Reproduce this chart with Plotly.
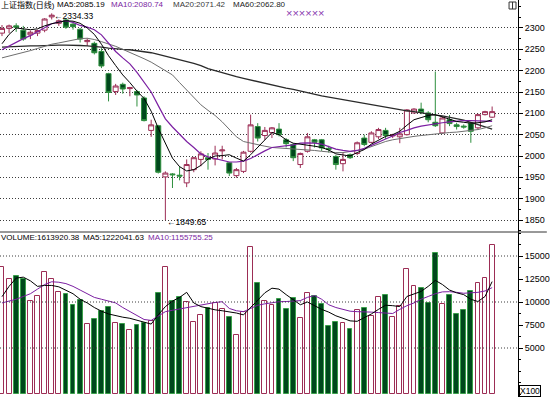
import plotly.graph_objects as go

# ---------------- data ----------------
day_index = list(range(70))

price_open = [2288, 2299, 2305, 2295, 2284, 2288, 2295, 2326, 2311, 2319,
              2309, 2297, 2268, 2264, 2245, 2193, 2151, 2168, 2158, 2151,
              2136, 2060, 2071, 1951, 1958, 1955, 1937, 1968, 1992, 1996,
              1993, 2012, 1984, 1954, 1964, 2011, 2069, 2048, 2055, 2063,
              2038, 2027, 1980, 2011, 2038, 2038, 2018, 1999, 1982, 2003,
              2006, 2042, 2032, 2045, 2060, 2047, 2045, 2050, 2101, 2110,
              2101, 2079, 2054, 2085, 2073, 2070, 2077, 2066, 2097, 2091]
price_high = [2307, 2308, 2311, 2305, 2294, 2296, 2323, 2334.33, 2320, 2323,
              2312, 2300, 2276, 2268, 2253, 2195, 2169, 2172, 2162, 2155,
              2140, 2085, 2073, 1964, 1960, 1976, 1992, 1998, 2011, 2007,
              2024, 2024, 1986, 1972, 2012, 2097, 2077, 2068, 2068, 2077,
              2042, 2030, 2008, 2054, 2040, 2040, 2024, 2002, 2007, 2006,
              2034, 2050, 2058, 2066, 2066, 2052, 2066, 2110, 2112, 2125,
              2105, 2198, 2092, 2096, 2078, 2074, 2079, 2099, 2106, 2116]
price_low = [2281, 2288, 2291, 2270, 2274, 2281, 2290, 2320, 2305, 2298,
             2296, 2266, 2258, 2238, 2206, 2128, 2143, 2146, 2140, 2116,
             2081, 2045, 1959, 1849.65, 1925, 1943, 1927, 1962, 1976, 1968,
             1978, 1992, 1953, 1949, 1960, 2008, 2034, 2038, 2042, 2046,
             2020, 1988, 1972, 2008, 2020, 2012, 2008, 1968, 1964, 1993,
             2002, 2023, 2030, 2040, 2040, 2042, 2030, 2048, 2099, 2098,
             2079, 2068, 2052, 2070, 2062, 2064, 2031, 2062, 2095, 2089]
price_close = [2299, 2305, 2302, 2274, 2290, 2294, 2321, 2330, 2317, 2302,
               2303, 2274, 2271, 2242, 2211, 2149, 2164, 2157, 2160, 2143,
               2083, 2073, 1962, 1960, 1956, 1953, 1980, 1996, 2005, 1992,
               2007, 2014, 1960, 1968, 2009, 2073, 2042, 2060, 2066, 2050,
               2029, 1996, 2006, 2045, 2032, 2019, 2016, 1980, 1992, 1996,
               2031, 2027, 2054, 2062, 2048, 2049, 2052, 2108, 2110, 2102,
               2085, 2071, 2089, 2076, 2069, 2068, 2058, 2097, 2104, 2104]

ma5 = [2263, 2285, 2300, 2298, 2296, 2298, 2305, 2310, 2314, 2317,
       2316, 2311, 2300, 2285, 2262, 2235, 2212, 2190, 2172, 2152,
       2135, 2105, 2065, 2030, 1995, 1975, 1965, 1968, 1978, 1993,
       2000, 2001, 2003, 1995, 1988, 2003, 2020, 2038, 2055, 2050,
       2038, 2030, 2028, 2025, 2023, 2020, 2014, 2005, 2002, 2000,
       2008, 2015, 2028, 2038, 2046, 2050, 2058, 2072, 2085, 2090,
       2095, 2097, 2092, 2086, 2081, 2079, 2077, 2078, 2080, 2085]
ma10 = [2249, 2258, 2267, 2275, 2282, 2292, 2302, 2310, 2314, 2317,
        2313, 2306, 2302, 2296, 2284, 2265, 2245, 2230, 2216, 2196,
        2172, 2150, 2118, 2087, 2068, 2050, 2034, 2020, 2005, 1998,
        1994, 1990, 1986, 1986, 1988, 1994, 2004, 2012, 2020, 2022,
        2024, 2026, 2030, 2031, 2030, 2028, 2022, 2016, 2013, 2011,
        2013, 2018, 2025, 2033, 2040, 2047, 2055, 2060, 2066, 2070,
        2073, 2075, 2078, 2080, 2082, 2083, 2083, 2082, 2081, 2081]
ma20 = [2230, 2234, 2238, 2242, 2247, 2252, 2257, 2262, 2265, 2268,
        2272, 2275, 2276, 2273, 2268, 2263, 2257, 2250, 2243, 2235,
        2228, 2220, 2210, 2200, 2190, 2172, 2155, 2137, 2120, 2107,
        2095, 2080, 2062, 2045, 2034, 2030, 2026, 2023, 2020, 2019,
        2018, 2017, 2016, 2015, 2013, 2011, 2009, 2008, 2008, 2010,
        2013, 2016, 2022, 2029, 2034, 2038, 2041, 2044, 2046, 2048,
        2050, 2052, 2054, 2055, 2056, 2058, 2059, 2062, 2066, 2071]
ma60 = [2255, 2256, 2257, 2257, 2258, 2258, 2259, 2259, 2260, 2260,
        2260, 2259, 2258, 2257, 2255, 2253, 2251, 2250, 2249, 2247,
        2245, 2242, 2238, 2234, 2229, 2225, 2221, 2217, 2212, 2205,
        2200, 2195, 2190, 2186, 2182, 2178, 2174, 2170, 2167, 2163,
        2159, 2156, 2152, 2148, 2145, 2141, 2138, 2135, 2132, 2129,
        2126, 2123, 2120, 2117, 2115, 2112, 2108, 2106, 2104, 2101,
        2099, 2096, 2094, 2091, 2088, 2084, 2079, 2074, 2068, 2063]

volume = [13840, 12460, 12830, 12460, 10110, 10690, 13230, 12460, 11120, 10830,
          9670, 10220, 7570, 8120, 9020, 9490, 7750, 7570, 6960, 7500,
          7750, 7970, 10940, 13840, 10110, 10510, 10030, 7860, 8590, 9310,
          9920, 9200, 8400, 6410, 8950, 16010, 12100, 10110, 9670, 10330,
          9200, 10400, 8300, 10940, 10650, 9780, 7390, 7860, 7680, 7030,
          9130, 9380, 8510, 10580, 10800, 8400, 9570, 13550, 11740, 11490,
          9920, 15290, 9750, 10760, 8660, 9130, 11230, 12030, 12640, 16160]
vol_ma5 = [10580, 11700, 12600, 12700, 12300, 11700, 11800, 11800, 11650, 11300,
           10900, 10300, 9900, 9400, 9000, 8700, 8500, 8350, 8230, 8000,
           7750, 7600, 8600, 9500, 10100, 10500, 11050, 9900, 9500, 9300,
           9150, 9050, 8950, 8800, 8600, 9400, 10300, 11000, 11500, 11400,
           10800, 10200, 9700, 10000, 9600, 9200, 8900, 8500, 8230, 7950,
           7900, 8300, 8700, 9200, 9650, 9600, 9500, 10600, 10900, 11150,
           11700, 12350, 11900, 11300, 11000, 10800, 10300, 10050, 10600, 12220]
vol_ma10 = [9900, 10100, 10300, 10600, 10900, 11400, 11900, 12200, 12150, 12000,
            11700, 11300, 10900, 10500, 10300, 10100, 9900, 9400, 8950, 8500,
            8100, 8000, 8500, 8950, 9100, 9250, 9350, 9500, 9650, 9800,
            9950, 10030, 9300, 9050, 8950, 9300, 9650, 9800, 9950, 10030,
            10050, 10080, 10150, 10500, 10700, 10300, 9700, 9400, 9200, 9000,
            8950, 8950, 8900, 8850, 8800, 8750, 9200, 9600, 9900, 10300,
            10600, 10900, 11100, 11120, 11050, 10950, 11000, 11050, 11200, 11560]

price_ticks = [1850, 1900, 1950, 2000, 2050, 2100, 2150, 2200, 2250, 2300]
vol_ticks = [5000, 7500, 10000, 12500, 15000]
vol_tick_labels = ["5000", "7500", "10000", "12500", "15000"]
vol_grid_levels = [5000, 10000, 15000]

price_header = ["上证指数(日线)", "MA5:2085.19", "MA10:2080.74", "MA20:2071.42", "MA60:2062.80"]
volume_header = ["VOLUME:1613920.38", "MA5:1222041.63", "MA10:1155755.25"]
high_label = "←2334.33"
low_label = "←1849.65"
high_day, low_day = 7, 23

# ---------------- style ----------------
W, H = 550, 397
PLOT_R = 521          # px of the right axis
SPLIT_PX = 232        # px of the panel separator
FONT = "Arial, Liberation Sans, Noto Sans CJK SC, sans-serif"
UP_LINE = "#9c2d55"
DN_LINE = "#2e8f3e"
DN_FILL = "#00481c"
C_MA5 = "#000000"
C_MA10 = "#7b1fa2"
C_MA20 = "#6e6e6e"
C_MA60 = "#2a2a2a"
GRID = "#3c3c3c"

split = 1 - SPLIT_PX / H


def px_x(px):
    return px / PLOT_R


def px_y(py):
    return 1 - py / H


fig = go.Figure()

fig.add_trace(go.Candlestick(
    x=day_index, open=price_open, high=price_high, low=price_low, close=price_close,
    increasing=dict(line=dict(color=UP_LINE, width=1), fillcolor="white"),
    decreasing=dict(line=dict(color=DN_LINE, width=1), fillcolor=DN_FILL),
    whiskerwidth=0, hoverinfo="skip", showlegend=False, yaxis="y"))

for series, color, width in [(ma60, C_MA60, 1.3), (ma20, C_MA20, 1), (ma10, C_MA10, 1.2), (ma5, C_MA5, 1)]:
    fig.add_trace(go.Scatter(x=day_index, y=series, mode="lines",
                             line=dict(color=color, width=width),
                             hoverinfo="skip", showlegend=False, yaxis="y"))

up = [c >= o for o, c in zip(price_open, price_close)]
fig.add_trace(go.Bar(
    x=day_index, y=volume, width=0.68,
    marker=dict(color=["white" if u else DN_FILL for u in up],
                line=dict(color=[UP_LINE if u else "#3aa04a" for u in up], width=1)),
    hoverinfo="skip", showlegend=False, yaxis="y2"))

for series, color in [(vol_ma10, C_MA10), (vol_ma5, C_MA5)]:
    fig.add_trace(go.Scatter(x=day_index, y=series, mode="lines",
                             line=dict(color=color, width=1),
                             hoverinfo="skip", showlegend=False, yaxis="y2"))

axis_common = dict(side="right", ticks="outside", ticklen=4, tickcolor="black",
                   showline=True, linecolor="black", linewidth=1, zeroline=False,
                   tickfont=dict(size=9, color="black", family=FONT), fixedrange=True)

fig.update_layout(
    width=W, height=H, margin=dict(l=0, r=W - PLOT_R, t=0, b=0),
    paper_bgcolor="white", plot_bgcolor="white", showlegend=False,
    boxgap=0.3, boxgroupgap=0, bargap=0,
    font=dict(family=FONT, size=9, color="black"),
    xaxis=dict(range=[-0.28, 72.64], visible=False, fixedrange=True,
               rangeslider=dict(visible=False)),
    yaxis=dict(domain=[split, 1], range=[1821.9, 2365.6], tickvals=price_ticks,
               showgrid=True, gridcolor=GRID, griddash="1px,2px", gridwidth=1,
               minor=dict(tickmode="linear", tick0=1800, dtick=25, ticks="outside",
                          ticklen=2, tickcolor="black", showgrid=False),
               **axis_common),
    yaxis2=dict(domain=[0, split], range=[-326, 17609], tickvals=vol_ticks,
                ticktext=vol_tick_labels, showgrid=False,
                minor=dict(tickmode="linear", tick0=0, dtick=1250, ticks="outside",
                           ticklen=2, tickcolor="black", showgrid=False),
                **axis_common),
)

shapes = []
for lvl in vol_grid_levels:
    shapes.append(dict(type="line", xref="x domain", yref="y2", x0=0, x1=1, y0=lvl, y1=lvl,
                       line=dict(color=GRID, width=1, dash="1px,2px")))
# panel separator
shapes.append(dict(type="line", xref="paper", yref="paper", x0=0, x1=W / PLOT_R,
                   y0=split, y1=split, line=dict(color="#333333", width=1)))
# small window icon at the top right
shapes.append(dict(type="rect", xref="paper", yref="paper", x0=px_x(512), x1=px_x(519),
                   y0=px_y(9), y1=px_y(2), line=dict(color="#333333", width=1)))
shapes.append(dict(type="line", xref="paper", yref="paper", x0=px_x(515.5), x1=px_x(515.5),
                   y0=px_y(9), y1=px_y(2), line=dict(color="#333333", width=1)))
fig.update_layout(shapes=shapes)

ann = []
row1_x = [0, 56, 111, 173, 233]
row1_c = ["black", C_MA5, C_MA10, "#3a3a3a", "#1a1a1a"]
row1_s = [8, 8, 8, 8, 8]
for t, x, c, s in zip(price_header, row1_x, row1_c, row1_s):
    ann.append(dict(text=t, x=px_x(x - 1), y=px_y(5), xref="paper", yref="paper",
                    xanchor="left", yanchor="middle", showarrow=False,
                    font=dict(size=s, color=c, family=FONT)))
row2_x = [0, 82, 148]
row2_c = ["black", "black", C_MA10]
for t, x, c in zip(volume_header, row2_x, row2_c):
    ann.append(dict(text=t, x=px_x(x - 1), y=px_y(237), xref="paper", yref="paper",
                    xanchor="left", yanchor="middle", showarrow=False,
                    font=dict(size=8, color=c, family=FONT)))
ann.append(dict(text="××××××", x=px_x(286), y=px_y(13), xref="paper", yref="paper",
                xanchor="left", yanchor="middle", showarrow=False,
                font=dict(size=11, color="#8a3ab0", family=FONT)))
ann.append(dict(text=high_label, x=high_day, y=price_high[high_day], xref="x", yref="y",
                xanchor="left", yanchor="middle", yshift=-3, showarrow=False,
                font=dict(size=8.5, color="black", family=FONT)))
ann.append(dict(text=low_label, x=low_day, y=price_low[low_day], xref="x", yref="y",
                xanchor="left", yanchor="middle", yshift=-2, showarrow=False,
                font=dict(size=8.5, color="black", family=FONT)))
ann.append(dict(text="X100", x=px_x(522), y=px_y(391), xref="paper", yref="paper",
                xanchor="left", yanchor="middle", showarrow=False,
                bordercolor="black", borderwidth=1, borderpad=0,
                font=dict(size=8.5, color="black", family=FONT)))
fig.update_layout(annotations=ann)

fig.write_html("out.html", config={"displayModeBar": False},
               post_script="document.body.style.margin='0';document.body.style.overflow='hidden';")
